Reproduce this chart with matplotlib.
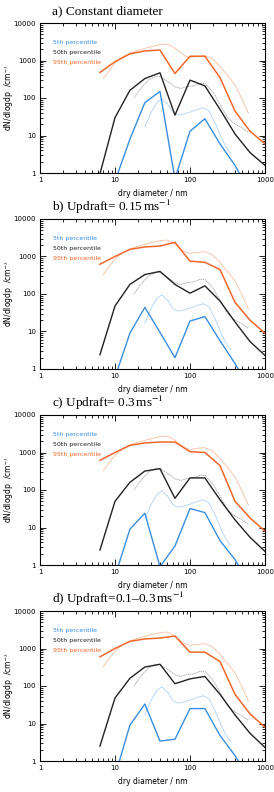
import matplotlib
matplotlib.use("Agg")
import matplotlib.pyplot as plt
import numpy as np
from matplotlib.ticker import LogLocator, FixedLocator, NullFormatter

plt.rcParams['mathtext.fontset'] = 'stix'

# model diameters (nm)
diam = [6.3, 10, 15.8, 25, 39.8, 63, 100, 158, 251, 398, 631, 1000]

titles = ["a) Constant diameter",
          r"b) Updraft= 0.15$\,$ms$^{-1}$",
          r"c) Updraft= 0.3$\,$ms$^{-1}$",
          r"d) Updraft=0.1–0.3$\,$ms$^{-1}$"]

p95 = [[480, 930, 1500, 1800, 1900, 450, 1300, 1300, 350, 45, 13, 6],
       [620, 1000, 1550, 1800, 1900, 2400, 750, 700, 450, 60, 20, 9],
       [620, 1000, 1550, 1800, 1900, 1900, 1050, 1000, 450, 50, 18, 8],
       [600, 1000, 1550, 1800, 1900, 2150, 800, 800, 450, 60, 18, 8]]
p50 = [[0.95, 30, 160, 330, 470, 35, 300, 210, 50, 11, 3.5, 1.6],
       [2.4, 48, 180, 330, 400, 180, 105, 165, 65, 18, 5.4, 2.3],
       [2.5, 50, 160, 320, 370, 60, 210, 210, 55, 16, 5.5, 2.3],
       [2.5, 48, 160, 320, 380, 115, 155, 180, 60, 17, 5.5, 2.3]]
p05 = [[0.3, 0.6, 8, 75, 150, 0.7, 13, 28, 6, 1.6, 0.3, 0.1],
       [0.3, 0.6, 9, 44, 9.5, 2, 19, 25, 5.7, 1.4, 0.3, 0.1],
       [0.3, 0.5, 9, 24, 0.9, 3.2, 32, 25, 4.5, 1.4, 0.3, 0.1],
       [0.3, 0.4, 9, 33, 3.4, 3.8, 25, 25, 4.8, 1.4, 0.3, 0.1]]

# observations (same in every panel)
obs95_d = [7.0, 8.5, 10, 12.6, 15.8, 20, 25, 32, 40, 48, 56, 70, 85, 100, 126, 158, 200, 250, 316, 400, 500, 600]
obs95_v = [330, 560, 850, 1250, 1600, 1850, 2100, 2400, 2650, 2750, 2500, 1800, 1350, 1200, 1300, 1350, 1100, 700, 400, 220, 90, 40]
obs50_d = [18, 22, 28, 35, 40, 50, 63, 75, 90, 110, 140, 160, 200, 250, 316, 400, 500, 600]
obs50_v = [100, 180, 300, 380, 370, 280, 200, 180, 200, 210, 250, 240, 150, 70, 30, 20, 16, 12]
obs05_d = [25, 30, 36, 42, 50, 60, 70, 85, 100, 126, 150, 180, 220, 260, 300, 350]
obs05_v = [17, 40, 75, 95, 70, 40, 35, 38, 42, 50, 55, 45, 20, 9, 5, 3.3]

legend_labels = ["5th percentile", "50th percentile", "95th percentile"]

c_or = '#F0672A'
c_bk = '#222222'
c_bl = '#3A8EE0'
c_or_l = '#F8C0A2'
c_bk_l = '#A0A0A0'
c_bl_l = '#B0D2F4'

fig = plt.figure(figsize=(2.74, 7.92), dpi=100)
bottoms = [1 - 173/792, 1 - 369/792, 1 - 565/792, 1 - 761/792]
for i in range(4):
    ax = fig.add_axes([40/274, bottoms[i], 225/274, 150/792])
    ax.set_xscale('log')
    ax.set_yscale('log')
    ax.set_xlim(1, 1000)
    ax.set_ylim(1, 10000)
    ax.plot(obs95_d, obs95_v, color=c_or_l, lw=0.6)
    ax.plot(obs50_d, obs50_v, color=c_bk_l, lw=0.6, ls=(0, (1.5, 0.8)))
    ax.plot(obs05_d, obs05_v, color=c_bl_l, lw=0.6)
    ax.plot(diam, p95[i], color=c_or, lw=1.1)
    ax.plot(diam, p50[i], color=c_bk, lw=1.0)
    ax.plot(diam, p05[i], color=c_bl, lw=1.0)
    ax.xaxis.set_major_locator(FixedLocator([1, 10, 100, 1000]))
    ax.yaxis.set_major_locator(FixedLocator([1, 10, 100, 1000, 10000]))
    ax.xaxis.set_minor_locator(LogLocator(base=10, subs=np.arange(2, 10)))
    ax.yaxis.set_minor_locator(LogLocator(base=10, subs=np.arange(2, 10)))
    ax.xaxis.set_minor_formatter(NullFormatter())
    ax.yaxis.set_minor_formatter(NullFormatter())
    ax.set_xticklabels(["1", "10", "100", "1000"])
    ax.set_yticklabels(["1", "10", "100", "1000", "10000"])
    ax.tick_params(which='both', direction='in', top=True, right=True, labelsize=5, width=0.6, pad=3)
    ax.tick_params(which='major', length=4)
    ax.tick_params(which='minor', length=2)
    for s in ax.spines.values():
        s.set_linewidth(0.8)
    ax.set_xlabel("dry diameter / nm", fontsize=5.5)
    ax.xaxis.set_label_coords(0.5, -0.11)
    ax.set_ylabel(r"dN/dlogdp  /cm$^{-3}$", fontsize=5.5)
    ax.yaxis.set_label_coords(-0.105, 0.5)
    for j, (lab, col) in enumerate(zip(legend_labels, [c_bl, c_bk, c_or])):
        ax.text(0.058, 0.87 - j*0.066, lab, transform=ax.transAxes, fontsize=4.5, color=col, va='center')
    ax.text(52/274, bottoms[i] + 150/792 + 12/792, titles[i], transform=fig.transFigure,
            fontsize=9.5, family='Liberation Serif', va='center', ha='left')

fig.savefig("out.png", dpi=100)
